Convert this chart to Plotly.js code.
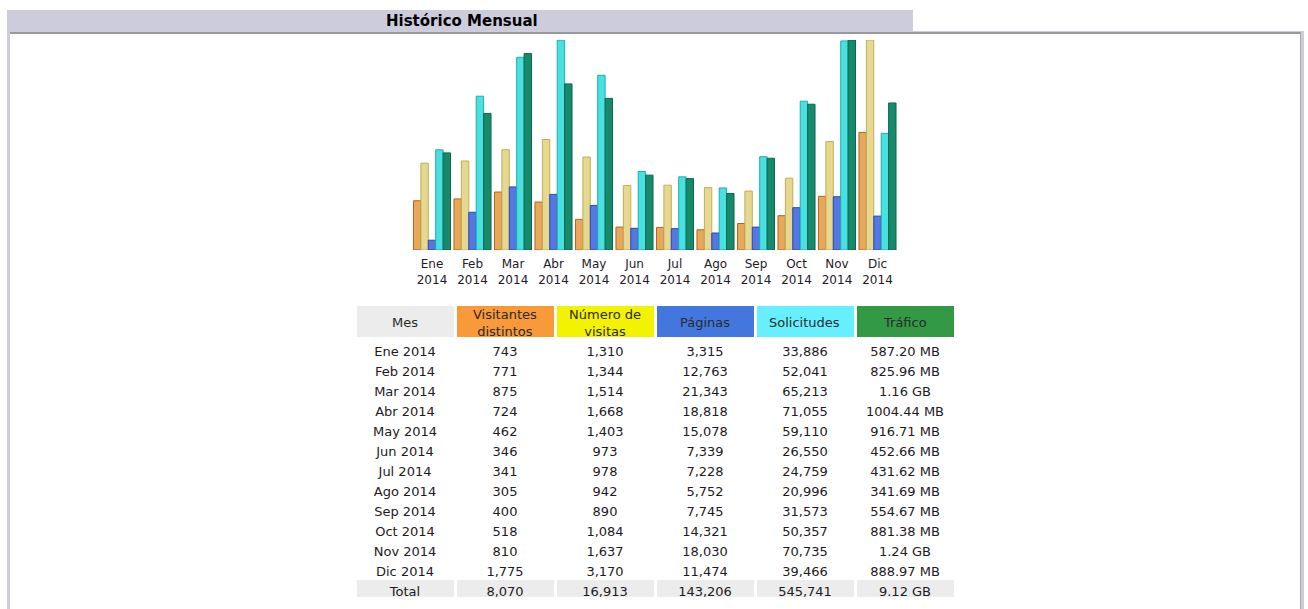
<!DOCTYPE html>
<html><head><meta charset="utf-8">
<script src="https://cdn.plot.ly/plotly-3.0.1.min.js"></script>
<style>html,body{margin:0;padding:0;background:#fff;} #chart{width:1308px;height:609px;}</style>
</head><body><div id="chart"></div>
<script>
const months = ['Ene','Feb','Mar','Abr','May','Jun','Jul','Ago','Sep','Oct','Nov','Dic'];
const year = '2014';
const visitors = [743,771,875,724,462,346,341,305,400,518,810,1775];
const visits = [1310,1344,1514,1668,1403,973,978,942,890,1084,1637,3170];
const pages = [3315,12763,21343,18818,15078,7339,7228,5752,7745,14321,18030,11474];
const hits = [33886,52041,65213,71055,59110,26550,24759,20996,31573,50357,70735,39466];
const bandwidthMB = [587.20,825.96,1187.84,1004.44,916.71,452.66,431.62,341.69,554.67,881.38,1269.76,888.97];
const tableHeaders = ['Mes','Visitantes<br>distintos','Número de<br>visitas','Páginas','Solicitudes','Tráfico'];
const headerColors = ['#ececec','#f99a3a','#f3f300','#4477dd','#66f0ff','#339944'];
const totalLabel = 'Total';
const totals = ['8,070','16,913','143,206','545,741','9.12 GB'];
const chartTitle = 'Histórico Mensual';

const W = 1308, H = 609;
const px = x => x / W, py = y => 1 - y / H;
const FONT = 'DejaVu Sans, Verdana, sans-serif';

const xcats = months.map(m => m + '<br>' + year);
const fmt = n => n.toLocaleString('en-US');
const fmtBW = v => v >= 1024 ? (v/1024).toFixed(2) + ' GB' : v.toFixed(2) + ' MB';

const bw = 0.183;
function bar(y, axis, color, line, idx) {
  return {type:'bar', x: xcats, y: y, yaxis: axis, width: bw, offset: -0.4575 + idx*bw,
    marker:{color: color, line:{color: line, width: 1}}, hoverinfo:'y', showlegend:false};
}
const traces = [
  bar(visitors, 'y', '#e8a85c', '#b0661c', 0),
  bar(visits, 'y', '#e6d88e', '#bfae58', 1),
  bar(pages, 'y2', '#5676e2', '#2a48b8', 2),
  bar(hits, 'y2', '#4ae0e0', '#1aaeb4', 3),
  bar(bandwidthMB, 'y3', '#178a6c', '#0b6650', 4)
];

// table geometry
const tblLeft = 355, tblRight = 955, tblTop = 304, headerH = 34;
const nCols = tableHeaders.length;
const colW = (tblRight - tblLeft) / nCols;

const nRows = months.length;
const clear = 'rgba(255,255,255,0)';
const rowFill = Array(nRows).fill(clear).concat(['#ececec']);
const rowLine = Array(nRows).fill(clear).concat(['#ffffff']);
const colMes = months.map(m => m + ' ' + year).concat([totalLabel]);
const colV = visitors.map(fmt).concat([totals[0]]);
const colVi = visits.map(fmt).concat([totals[1]]);
const colP = pages.map(fmt).concat([totals[2]]);
const colH = hits.map(fmt).concat([totals[3]]);
const colB = bandwidthMB.map(fmtBW).concat([totals[4]]);

traces.push({
  type:'table',
  domain:{x:[px(tblLeft), px(tblRight)], y:[py(606), py(tblTop)]},
  columnwidth: Array(nCols).fill(1),
  header:{values: tableHeaders.map(() => ''), align:'center', height: headerH,
    fill:{color: headerColors},
    line:{color:'#ffffff', width:3},
    font:{family: FONT, size: 13, color:'#333333'}},
  cells:{values:[colMes,colV,colVi,colP,colH,colB], align:'center', height: 20,
    fill:{color: Array(nCols).fill(rowFill)},
    line:{color: Array(nCols).fill(rowLine), width:3},
    font:{family: FONT, size: 13, color:'#1e1a24'}}
});

const shapes = [
  {type:'rect', xref:'paper', yref:'paper', x0:px(7), x1:px(913), y0:py(31), y1:py(10), fillcolor:'#ccccdd', line:{width:0}, layer:'below'},
  {type:'rect', xref:'paper', yref:'paper', x0:px(7), x1:px(10), y0:py(609), y1:py(31), fillcolor:'#ccccdd', line:{width:0}},
  {type:'rect', xref:'paper', yref:'paper', x0:px(1301), x1:px(1304), y0:py(609), y1:py(31), fillcolor:'#ccccdd', line:{width:0}},
  {type:'rect', xref:'paper', yref:'paper', x0:px(7), x1:px(1304), y0:py(34), y1:py(31), fillcolor:'#ccccdd', line:{width:0}},
  {type:'line', xref:'paper', yref:'paper', x0:px(10), x1:px(1301), y0:py(33), y1:py(33), line:{color:'#999999', width:2}},
  {type:'line', xref:'paper', yref:'paper', x0:px(1300.5), x1:px(1300.5), y0:py(33), y1:py(609), line:{color:'#aaaaaa', width:1}}
];

const annotations = [{text:'<b>' + chartTitle + '</b>', xref:'paper', yref:'paper', x:px(462), y:py(20.5), showarrow:false,
    xanchor:'center', yanchor:'middle', font:{family: FONT, size:15, color:'#000000'}}];
tableHeaders.forEach((h, i) => {
  annotations.push({text: h, xref:'paper', yref:'paper', x: px(tblLeft + colW*(i+0.5)), y: py(322.5),
    showarrow:false, xanchor:'center', yanchor:'middle', align:'center',
    font:{family: FONT, size:13, color:'#2a2a2a'}});
});

const hiddenY = (max, extra) => Object.assign({range:[0, max], showgrid:false, zeroline:false, showticklabels:false, showline:false, ticks:'', fixedrange:true, domain:[py(250), py(40)]}, extra||{});

const layout = {
  width: W, height: H, margin:{l:0,r:0,t:0,b:0}, paper_bgcolor:'#ffffff', plot_bgcolor:'rgba(0,0,0,0)',
  showlegend:false, barmode:'overlay',
  font:{family: FONT, size: 12, color:'#222222'},
  xaxis:{domain:[px(411.75), px(897.75)], range:[-0.5, 11.5], type:'category', showgrid:false, zeroline:false, showline:false,
    ticks:'outside', ticklen:3, tickcolor:'rgba(0,0,0,0)', tickfont:{family: FONT, size:12, color:'#1e1a2a'}, fixedrange:true},
  yaxis: hiddenY(Math.max(...visits)),
  yaxis2: hiddenY(Math.max(...hits), {overlaying:'y'}),
  yaxis3: hiddenY(Math.max(...bandwidthMB), {overlaying:'y'}),
  shapes: shapes,
  annotations: annotations
};

Plotly.newPlot('chart', traces, layout, {displayModeBar:false, staticPlot:true});
</script></body></html>
